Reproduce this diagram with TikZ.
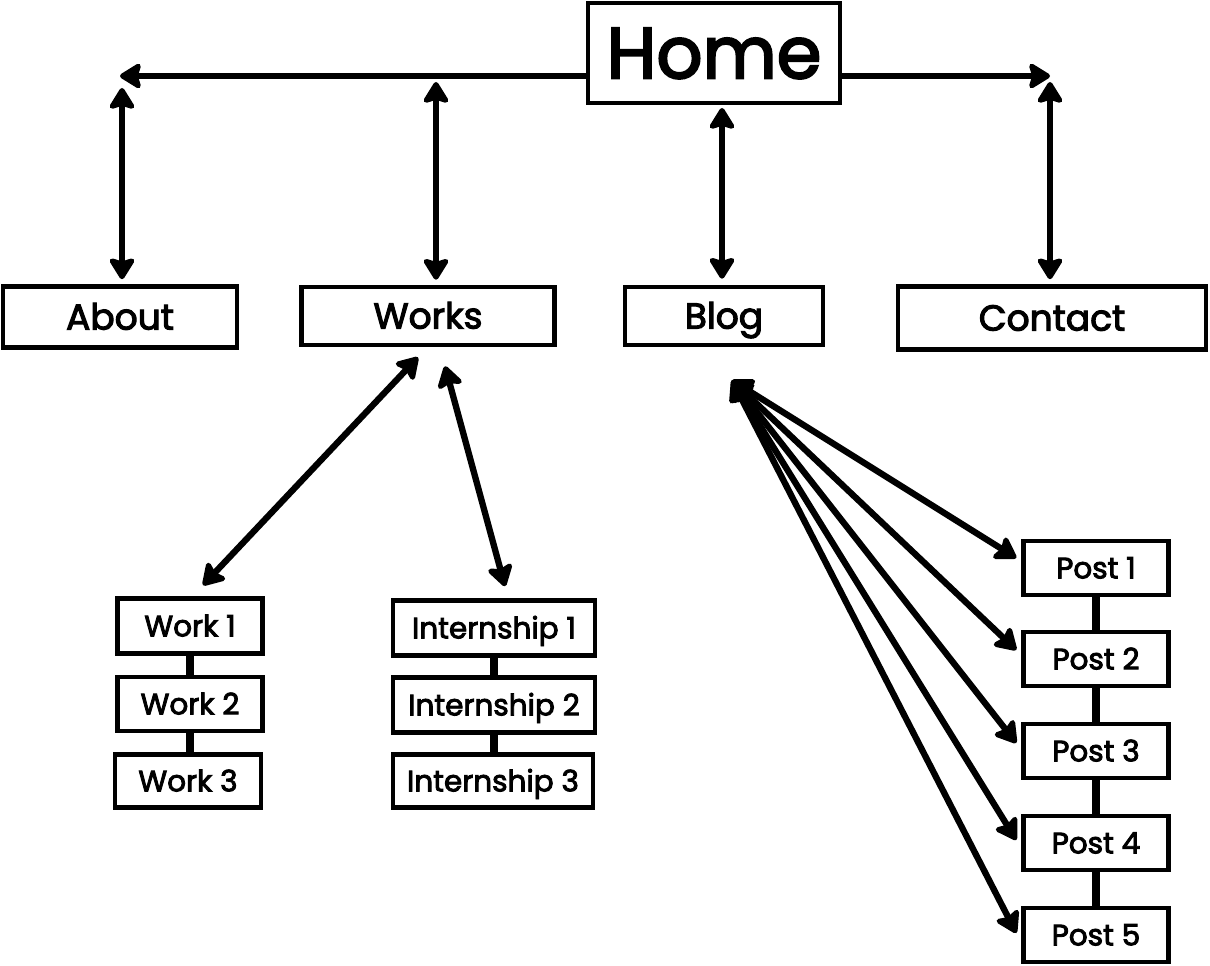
\documentclass[tikz,border=0pt]{standalone}
\usepackage{fontspec}
\setmainfont{Poppins}
\newfontfamily\sketchfont{Poppins}[FakeBold=3]
\usetikzlibrary{arrows.meta,calc}

\begin{document}
\begin{tikzpicture}[x=0.02cm,y=-0.02cm,
    box/.style={draw,line width=2.6pt,inner sep=0pt,fill=white,text depth=0pt},
    wire/.style={line width=3.4pt,-{Stealth[length=14pt,width=17pt,inset=2.5pt,round]}},
    dual/.style={line width=3.6pt,{Stealth[length=14pt,width=17pt,inset=2.5pt,round]}-{Stealth[length=14pt,width=17pt,inset=2.5pt,round]}},
    stem/.style={line width=4.4pt},
    big/.style={font=\sketchfont\fontsize{41}{48}\selectfont,text height=28.7pt},
    mid/.style={font=\sketchfont\fontsize{20.5}{24}\selectfont,text height=14.3pt},
    small/.style={font=\sketchfont\fontsize{16.8}{20}\selectfont,text height=11.8pt}]
    \useasboundingbox (0,0) rectangle (1210,966);
    \node[box,big,minimum width=5.04cm,minimum height=2cm] (home) at (714,53) {Home};
    \node[box,mid,minimum width=4.68cm,minimum height=1.22cm] (about) at (120,317) {About};
    \node[box,mid,minimum width=5.06cm,minimum height=1.16cm] (works) at (428,316) {Works};
    \node[box,mid,minimum width=3.96cm,minimum height=1.16cm] (blog) at (724,316) {Blog};
    \node[box,mid,minimum width=6.16cm,minimum height=1.26cm] (contact) at (1052,318) {Contact};
    \node[box,small,minimum width=2.9cm,minimum height=1.1cm] (work1) at (190,626) {Work 1};
    \node[box,small,minimum width=2.9cm,minimum height=1.08cm] (work2) at (190,704) {Work 2};
    \node[box,small,minimum width=2.92cm,minimum height=1.06cm] (work3) at (188,781) {Work 3};
    \node[box,small,minimum width=4.04cm,minimum height=1.1cm] (intern1) at (494,628) {Internship 1};
    \node[box,small,minimum width=4.04cm,minimum height=1.1cm] (intern2) at (494,705) {Internship 2};
    \node[box,small,minimum width=4cm,minimum height=1.06cm] (intern3) at (493,781) {Internship 3};
    \foreach \i/\y in {1/568,2/659,3/751,4/843,5/935}
      \node[box,small,minimum width=2.9cm,minimum height=1.08cm] (post\i) at (1096,\y) {Post \i};
    \coordinate (lend) at (120,76);
    \coordinate (rend) at (1050,76);
    \coordinate (aj) at (122,88);
    \coordinate (wj) at (436,82);
    \coordinate (bj) at (722,108);
    \coordinate (cj) at (1050,82);
    \draw[wire] (home.west |- lend) -- (lend);
    \draw[wire] (home.east |- rend) -- (rend);
    \draw[dual] (aj) -- ($(aj |- about.north)+(0,-5)$);
    \draw[dual] (wj) -- ($(wj |- works.north)+(0,-5)$);
    \draw[dual] (bj) -- ($(bj |- blog.north)+(0,-6)$);
    \draw[dual] (cj) -- ($(cj |- contact.north)+(0,-5)$);
    \draw[dual] ($(works.south)+(-10,10)$) -- ($(work1.north)+(13,-11)$);
    \draw[dual] ($(works.south)+(17,19)$) -- ($(intern1.north)+(11,-12)$);
    \coordinate (fan) at ($(blog.south)+(8,33)$);
    \foreach \i/\dy in {1/-10,2/-9,3/-8,4/-3,5/-2}
      \draw[dual] (fan) -- ($(post\i.west)+(-5,\dy)$);
    \draw[stem] (work1.south) -- (work1.south |- work2.north) (work2.south) -- (work2.south |- work3.north);
    \draw[stem] (intern1.south) -- (intern1.south |- intern2.north) (intern2.south) -- (intern2.south |- intern3.north);
    \foreach \i [evaluate=\i as \j using int(\i+1)] in {1,...,4}
      \draw[stem] (post\i.south) -- (post\j.north);
  \end{tikzpicture}
\end{document}
